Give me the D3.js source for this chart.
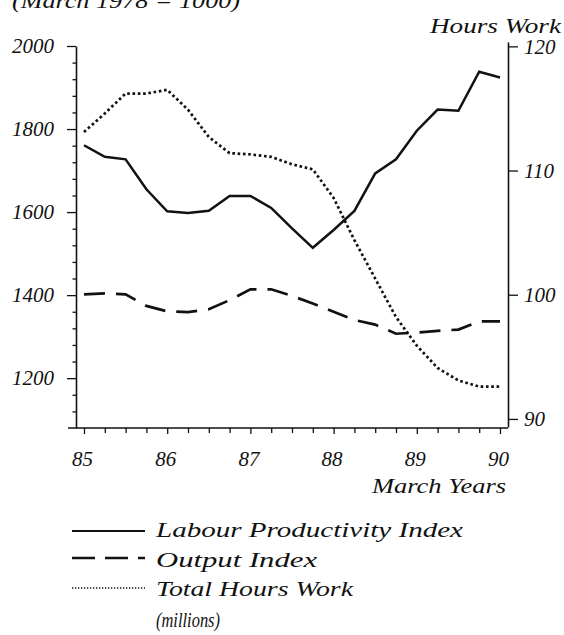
<!DOCTYPE html>
<html>
<head>
<meta charset="utf-8">
<script src="https://cdn.jsdelivr.net/npm/d3@7"></script>
<style>
  body { margin: 0; background: #fff; }
  text { font-family: "Liberation Serif", "Times New Roman", serif; font-style: italic; fill: #111; }
</style>
</head>
<body>
<div id="chart"></div>
<script>
// Quarterly March years
var quarters = [85, 85.25, 85.5, 85.75, 86, 86.25, 86.5, 86.75, 87, 87.25, 87.5,
  87.75, 88, 88.25, 88.5, 88.75, 89, 89.25, 89.5, 89.75, 90];

// Labour Productivity Index (left axis)
var labour = [1761, 1733, 1727, 1655, 1602, 1598, 1603, 1639, 1639, 1610, 1561,
  1514, 1557, 1603, 1693, 1727, 1796, 1847, 1844, 1938, 1924];

// Output Index (left axis)
var output = [1402, 1404, 1402, 1374, 1361, 1359, 1366, 1388, 1414, 1414, 1398,
  1380, 1360, 1340, 1329, 1307, 1310, 1314, 1317, 1337, 1337];

// Total Hours Work, millions (right axis)
var hours = [113.1, 114.6, 116.2, 116.2, 116.5, 114.9, 112.7, 111.4, 111.3, 111.1, 110.5,
  110.1, 107.8, 104.4, 101.3, 98.2, 95.9, 94.1, 93.1, 92.6, 92.6];

// Tick labels
var leftTicks = [1200, 1400, 1600, 1800, 2000];
var leftMinor = [1120, 1160, 1240, 1280, 1320, 1360, 1440, 1480, 1520, 1560,
  1640, 1680, 1720, 1760, 1840, 1880, 1920, 1960];
var rightTicks = [90, 100, 110, 120];
var xTicks = [85, 86, 87, 88, 89, 90];

var legendLabels = ["Labour Productivity Index", "Output Index", "Total Hours Work", "(millions)"];

var svgWidth = 564;
var svgHeight = 635;

var axisLeftX = 76;
var axisRightX = 508;
var axisBottomY = 428;

var svg = d3.select("#chart")
  .append("svg")
  .attr("width", svgWidth)
  .attr("height", svgHeight);

// Scales
var x = d3.scaleLinear().domain([85, 90]).range([84, 500]);
var yLeft = d3.scaleLinear().domain([1080, 2000]).range([428, 46]);
var yRight = d3.scaleLinear().domain([89.35, 120.35]).range([427, 42]);

// Left axis
var leftAxis = d3.axisLeft(yLeft)
  .tickValues(leftTicks)
  .tickFormat(d3.format("d"))
  .tickSize(9)
  .tickSizeOuter(0)
  .tickPadding(13);

svg.append("g")
  .attr("transform", `translate(${axisLeftX},0)`)
  .call(leftAxis);

svg.append("g")
  .attr("transform", `translate(${axisLeftX},0)`)
  .call(d3.axisLeft(yLeft).tickValues(leftMinor).tickFormat("").tickSize(3.5).tickSizeOuter(0))
  .select(".domain").remove();

// Right axis
var rightAxis = d3.axisRight(yRight)
  .tickValues(rightTicks)
  .tickFormat(d3.format("d"))
  .tickSize(10)
  .tickSizeOuter(0)
  .tickPadding(6);

svg.append("g")
  .attr("transform", `translate(${axisRightX},0)`)
  .call(rightAxis);

// Bottom axis (quarterly ticks)
var bottomAxis = d3.axisBottom(x)
  .tickValues(xTicks)
  .tickFormat(d3.format("d"))
  .tickSize(6)
  .tickSizeOuter(0)
  .tickPadding(17);

var gBottom = svg.append("g")
  .attr("transform", `translate(0,${axisBottomY})`)
  .call(bottomAxis);
gBottom.select(".domain").remove();
gBottom.selectAll(".tick text").attr("dx", "-2");

svg.append("g")
  .attr("transform", `translate(0,${axisBottomY})`)
  .call(d3.axisBottom(x).tickValues(quarters.filter(q => q % 1 != 0)).tickFormat("").tickSize(5))
  .select(".domain").remove();

svg.append("line")
  .attr("x1", axisLeftX - 8).attr("x2", axisRightX)
  .attr("y1", axisBottomY).attr("y2", axisBottomY)
  .attr("stroke", "#111").attr("stroke-width", 1.6);

svg.selectAll(".domain").attr("stroke", "#111").attr("stroke-width", 1.6);
svg.selectAll(".tick line").attr("stroke", "#111").attr("stroke-width", 1.3);
svg.selectAll(".tick text")
  .style("font-family", "'Liberation Serif', serif")
  .style("font-style", "italic")
  .style("font-size", "21px")
  .attr("fill", "#111");

// Lines
var lineLeft = d3.line()
  .x((d, i) => x(quarters[i]))
  .y(d => yLeft(d));

var lineRight = d3.line()
  .x((d, i) => x(quarters[i]))
  .y(d => yRight(d));

svg.append("path")
  .datum(labour)
  .attr("d", lineLeft)
  .attr("fill", "none")
  .attr("stroke", "#111")
  .attr("stroke-width", 2.5)
  .attr("stroke-linejoin", "miter");

svg.append("path")
  .datum(output)
  .attr("d", lineLeft)
  .attr("fill", "none")
  .attr("stroke", "#111")
  .attr("stroke-width", 2.7)
  .attr("stroke-dasharray", "21,11");

svg.append("path")
  .datum(hours)
  .attr("d", lineRight)
  .attr("fill", "none")
  .attr("stroke", "#111")
  .attr("stroke-width", 2.7)
  .attr("stroke-dasharray", "2.6,2.7");

// Titles
function label(txt, px, py, anchor, len) {
  var t = svg.append("text")
    .attr("x", px).attr("y", py)
    .attr("text-anchor", anchor)
    .style("font-size", "22px")
    .text(txt);
  if (len) t.attr("textLength", len).attr("lengthAdjust", "spacingAndGlyphs");
  return t;
}

label("(March 1978 = 1000)", 12, 7.5, "start", 228);
label("Hours Work", 430, 33, "start", 131);
label("March Years", 372, 493, "start", 134);

// Legend
var legendY = [531, 558, 588];
var legendDash = [null, "23,10", "1.3,1.7"];
var legendWidth = [2.2, 2.4, 1.4];

legendY.forEach(function(ly, i) {
  svg.append("line")
    .attr("x1", 72).attr("x2", 145)
    .attr("y1", ly).attr("y2", ly)
    .attr("stroke", "#111")
    .attr("stroke-width", legendWidth[i])
    .attr("stroke-dasharray", legendDash[i]);
});

label(legendLabels[0], 156, 537, "start", 307);
label(legendLabels[1], 156, 567, "start", 161);
label(legendLabels[2], 156, 596, "start", 197);
label(legendLabels[3], 156, 627, "start", 64);
</script>
</body>
</html>
